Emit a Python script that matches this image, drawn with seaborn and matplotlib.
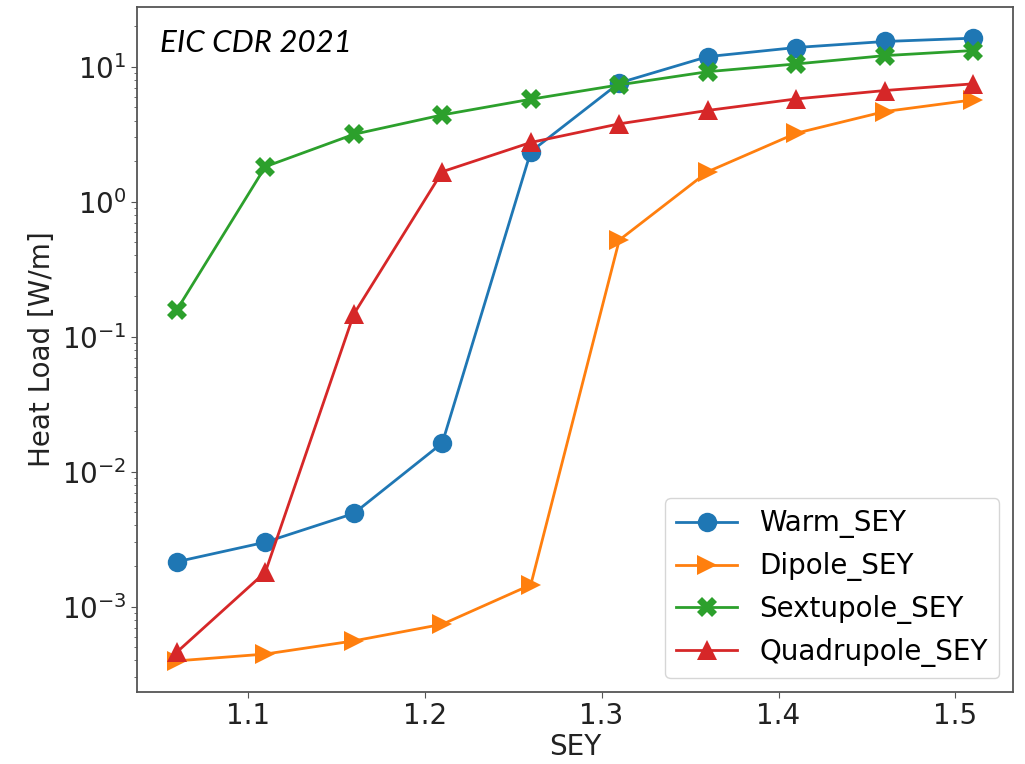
import matplotlib
matplotlib.use("Agg")
import matplotlib.pyplot as plt
import numpy as np
import pandas as pd
import seaborn as sns

# Secondary electron yield scan points
sey = [1.06, 1.11, 1.16, 1.21, 1.26, 1.31, 1.36, 1.41, 1.46, 1.51]

# Heat load per element type [W/m]
warm = [2.15e-3, 3.0e-3, 4.9e-3, 0.0163, 2.35, 7.6, 11.9, 13.9, 15.4, 16.3]
dipole = [3.96e-4, 4.45e-4, 5.57e-4, 7.4e-4, 1.45e-3, 0.52, 1.67, 3.22, 4.66, 5.69]
sextupole = [0.158, 1.82, 3.16, 4.4, 5.75, 7.35, 9.2, 10.5, 12.1, 13.2]
quadrupole = [4.6e-4, 1.8e-3, 0.147, 1.67, 2.75, 3.78, 4.75, 5.78, 6.67, 7.48]

series_names = ["Warm_SEY", "Dipole_SEY", "Sextupole_SEY", "Quadrupole_SEY"]
series_values = [warm, dipole, sextupole, quadrupole]

df = pd.concat(
    [pd.DataFrame({"SEY": sey, "load": vals, "element": name})
     for name, vals in zip(series_names, series_values)],
    ignore_index=True,
)

plt.rcParams["font.family"] = ["DejaVu Sans"]
plt.rcParams["font.size"] = 20

fig = plt.figure(figsize=(10.25, 7.64), dpi=100)
ax = fig.add_axes([0.1337, 0.0942, 0.8546, 0.8966])

palette = dict(zip(series_names, ["#1f77b4", "#ff7f0e", "#2ca02c", "#d62728"]))
markers = dict(zip(series_names, ["o", ">", "X", "^"]))

sns.lineplot(
    data=df, x="SEY", y="load", hue="element", style="element",
    palette=palette, markers=markers, dashes=False,
    markersize=14, markeredgewidth=0, linewidth=2.0, ax=ax,
    legend=True,
)

ax.set_yscale("log")
ax.set_xticks([1.1, 1.2, 1.3, 1.4, 1.5])
ax.set_xlabel("SEY", fontsize=20, color="#222222", labelpad=2)
ax.set_ylabel("Heat Load [W/m]", fontsize=20, color="#222222")
ax.tick_params(axis="both", which="major", labelsize=20, colors="#555555",
               labelcolor="#222222", length=4)
ax.tick_params(axis="y", which="minor", colors="#555555", length=2.5)
for sp in ax.spines.values():
    sp.set_color("#555555")
    sp.set_linewidth(1.3)

handles, labels = ax.get_legend_handles_labels()
ax.legend(handles, labels, loc="lower right", fontsize=20, markerscale=1.0,
          handlelength=2.2, framealpha=0.8)

ax.text(0.026, 0.934, "EIC CDR 2021", transform=ax.transAxes,
        fontsize=22.5, fontstyle="italic", family=["Lato", "DejaVu Sans"],
        ha="left", va="baseline", color="black")

fig.savefig("out.png", dpi=100)
